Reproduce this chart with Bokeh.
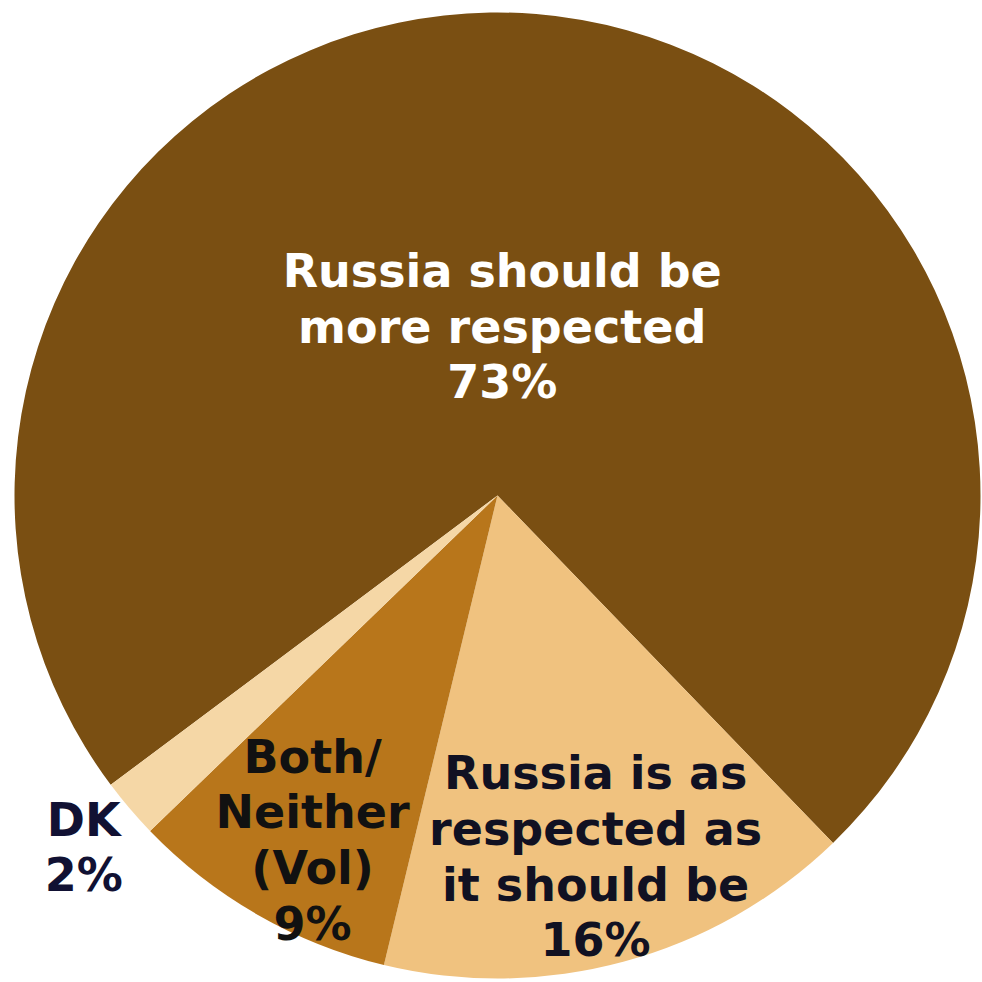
import math
from bokeh.plotting import figure
from bokeh.models import Range1d, ColumnDataSource
from bokeh.core.properties import value
from bokeh.embed import file_html
from bokeh.resources import INLINE

# ---- data ----
categories = ["Russia should be more respected",
              "Russia is as respected as it should be",
              "Both/ Neither (Vol)",
              "DK"]
label_texts = ["Russia should be\nmore respected\n73%",
               "Russia is as\nrespected as\nit should be\n16%",
               "Both/\nNeither\n(Vol)\n9%",
               "DK\n2%"]
values = [73, 16, 9, 2]
colors = ["#7A4F12", "#F0C27F", "#B8761B", "#F5D7A6"]
text_colors = ["#FFFFFF", "#111122", "#111111", "#111133"]
label_radius = [0.35, 0.775, 0.81, 1.125]
label_angle_shift = [-3.0, 0.0, -1.6, 0.0]  # screen degrees

# ---- layout ----
W = H = 982
cx, cy, R = 497.0, -495.0, 483.0
start_screen_deg = 143.2  # clockwise from east, screen

p = figure(width=W, height=H, output_backend="svg", toolbar_location=None,
           x_range=Range1d(0, W), y_range=Range1d(-H, 0),
           min_border=0)
p.axis.visible = False
p.grid.visible = False
p.outline_line_color = None
p.background_fill_color = "white"
p.border_fill_color = "white"

total = float(sum(values))
starts, ends, lx, ly = [], [], [], []
cum = start_screen_deg
for v, f, da in zip(values, label_radius, label_angle_shift):
    a0 = cum
    a1 = cum + v / total * 360.0
    starts.append(math.radians(-a0))
    ends.append(math.radians(-a1))
    mid = math.radians(-((a0 + a1) / 2.0 + da))
    lx.append(cx + f * R * math.cos(mid))
    ly.append(cy + f * R * math.sin(mid))
    cum = a1

src = ColumnDataSource(dict(cat=categories, val=values, start=starts, end=ends,
                            color=colors, lx=lx, ly=ly, txt=label_texts,
                            tcol=text_colors))

p.wedge(x=cx, y=cy, radius=R, start_angle="start", end_angle="end",
        direction="clock", fill_color="color", line_color=None, source=src)

p.text(x="lx", y="ly", text="txt", source=src, text_color="tcol",
       text_font=value("DejaVu Sans"), text_font_style="bold",
       text_font_size="46px", text_align="center", text_baseline="middle",
       text_line_height=1.03)

open("out.html", "w").write(file_html(p, INLINE))
